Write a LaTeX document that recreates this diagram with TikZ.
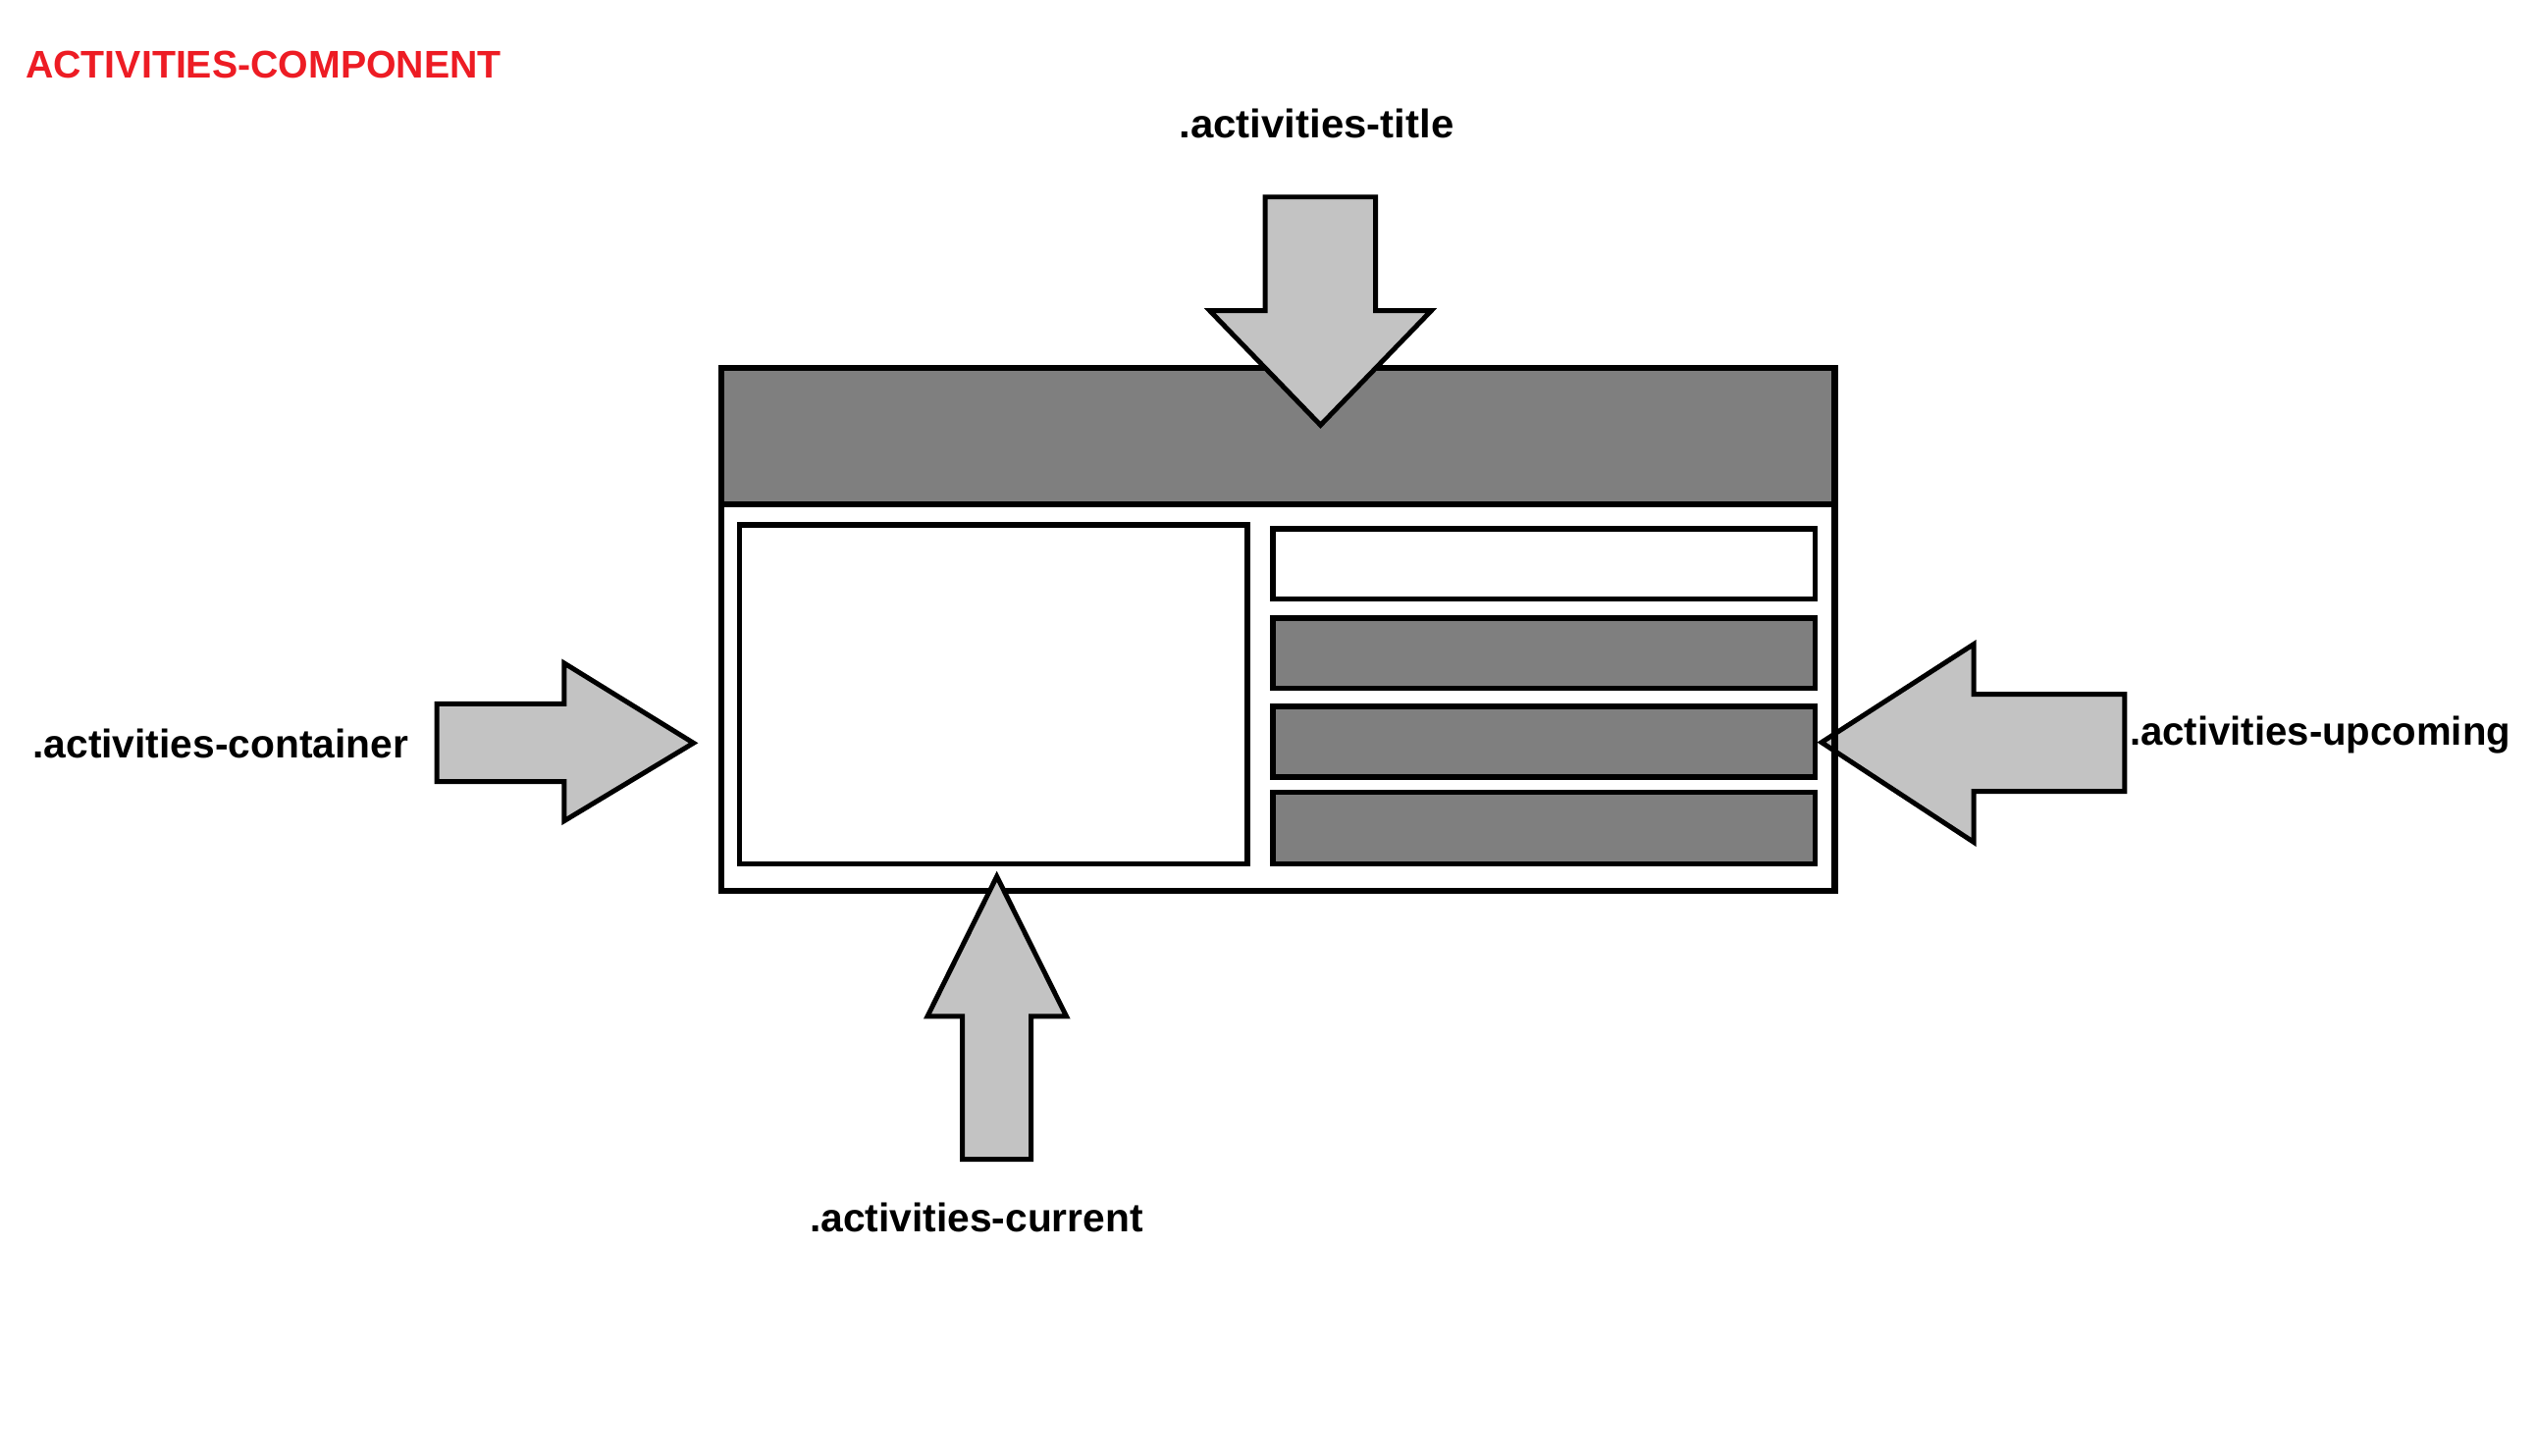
\documentclass[tikz,border=0pt]{standalone}
\usepackage{fontspec}
\setmainfont{Liberation Sans}
\definecolor{hdrgray}{HTML}{7F7F7F}
\definecolor{arrowgray}{HTML}{C3C3C3}
\definecolor{titlered}{HTML}{ED1C24}
\begin{document}
\begin{tikzpicture}[x=0.02cm,y=-0.02cm,
  boxline/.style={draw=black, line width=0.074cm},
  innerbox/.style={draw=black, line width=0.068cm},
  bigarrow/.style={draw=black, fill=arrowgray, line width=0.06cm, line join=miter},
  lbl/.style={font=\fontsize{14}{16}\selectfont\bfseries, inner sep=0, anchor=base west},
  ttl/.style={font=\fontsize{13.5}{16}\selectfont\bfseries, text=titlered, inner sep=0, anchor=base west}]
\useasboundingbox (0,0) rectangle (1560,895.9);

% title
\node[ttl] (title) at (15.5,48) {ACTIVITIES-COMPONENT};

% right arrow (drawn below the box outline)
\draw[bigarrow] (1307,427.2) -- (1214.1,427.2) -- (1214.1,396.4) -- (1120.5,456.8)
  -- (1214.1,518.2) -- (1214.1,487) -- (1307,487) -- cycle;

% main box
\draw[boxline] (443.5,226.2) rectangle (1128.6,548);
\draw[boxline, fill=hdrgray] (443.5,226.2) rectangle (1128.6,310.4);

% left inner box
\draw[innerbox, fill=white] (455,323.1) rectangle (767.3,531.5);

% right boxes
\draw[innerbox, fill=white]   (783,325.4) rectangle (1116.6,368.6);
\draw[innerbox, fill=hdrgray] (783,380.2) rectangle (1116.6,423.6);
\draw[innerbox, fill=hdrgray] (783,434.7) rectangle (1116.6,478.3);
\draw[innerbox, fill=hdrgray] (783,487.6) rectangle (1116.6,531.5);

% top arrow (down)
\draw[bigarrow] (778.2,121.2) -- (846.2,121.2) -- (846.2,191.2) -- (880.4,191.2)
  -- (812.3,261.6) -- (744.2,191.2) -- (778.2,191.2) -- cycle;

% left arrow (right)
\draw[bigarrow] (268.7,433.1) -- (347.1,433.1) -- (347.1,408.1) -- (426.6,457.2)
  -- (347.1,505.1) -- (347.1,481) -- (268.7,481) -- cycle;

% bottom arrow (up)
\draw[bigarrow] (592,713.4) -- (592,625.4) -- (570.5,625.4) -- (613.2,539.3)
  -- (656,625.4) -- (634.3,625.4) -- (634.3,713.4) -- cycle;

% labels
\node[lbl, xscale=1.03] (ltitle) at (725,84.6) {.activities-title};
\node[lbl] (lcontainer) at (19.8,466.2) {.activities-container};
\node[lbl, xscale=0.985] (lupcoming) at (1309.8,458.8) {.activities-upcoming};
\node[lbl] (lcurrent) at (497.8,758.2) {.activities-current};
\end{tikzpicture}
\end{document}
